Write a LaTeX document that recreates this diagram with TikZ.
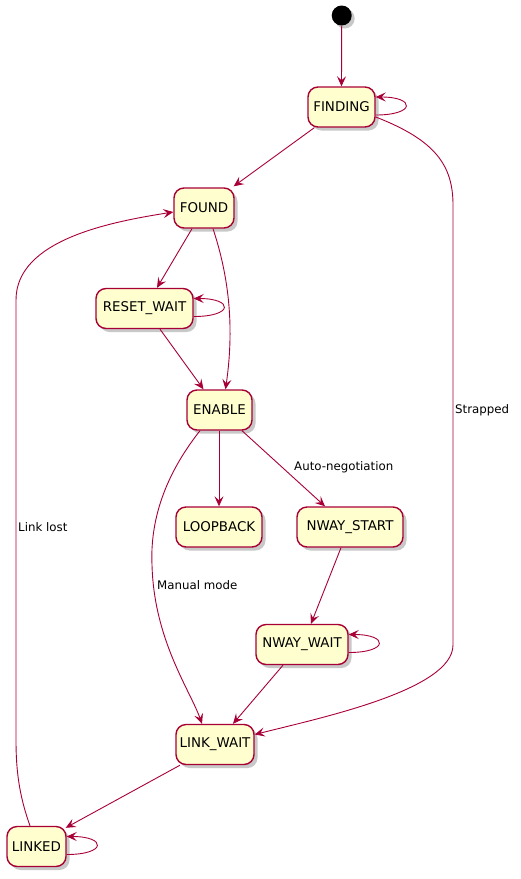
\documentclass[tikz,border=0pt]{standalone}
\usepackage{fontspec}
\setmainfont{DejaVu Sans}
\usetikzlibrary{arrows.meta,shadows}
\definecolor{pborder}{HTML}{A80036}
\definecolor{pfill}{HTML}{FEFECE}
\tikzset{
  state/.style={draw=pborder, fill=pfill, line width=1.4pt, rounded corners=10pt,
    minimum height=40pt, inner sep=0pt, font=\fontsize{13.4}{15}\selectfont,
    drop shadow={shadow xshift=3.5pt, shadow yshift=-3.5pt, opacity=0.3, fill=black!70}},
  startnode/.style={circle, fill=black, minimum size=20pt, inner sep=0pt,
    drop shadow={shadow xshift=3pt, shadow yshift=-3pt, opacity=0.3, fill=black!70}},
  tr/.style={draw=pborder, line width=0.9pt, -{Stealth[length=10pt, width=9pt, inset=4pt]}},
  lbl/.style={font=\fontsize{11.8}{14}\selectfont, inner sep=0pt}
}
\begin{document}
\begin{tikzpicture}[x=1pt,y=1pt]
\useasboundingbox[fill=white] (0,0) rectangle (521,-879);
\node[startnode] (start) at (341.7,-15.5) {};
\node[state, minimum width=67pt] (finding) at (341.5,-107) {FINDING};
\node[state, minimum width=60pt] (found) at (204,-208) {FOUND};
\node[state, minimum width=97pt] (reset) at (144.5,-308.5) {RESET\_WAIT};
\node[state, minimum width=65pt] (enable) at (219.5,-410) {ENABLE};
\node[state, minimum width=86pt] (loopback) at (219,-527) {LOOPBACK};
\node[state, minimum width=106pt] (nstart) at (350,-527) {NWAY\_START};
\node[state, minimum width=92pt] (nwait) at (302,-644.5) {NWAY\_WAIT};
\node[state, minimum width=78pt] (lwait) at (215,-744.5) {LINK\_WAIT};
\node[state, minimum width=59pt] (linked) at (36.5,-846.5) {LINKED};

% start -> FINDING
\draw[tr] (start.south) -- (finding.north);
% FINDING self loop
\draw[tr] ([yshift=-8pt]finding.east) .. controls +(40,0) and +(40,0) .. ([yshift=10pt]finding.east);
% FINDING -> FOUND
\draw[tr] ([xshift=7pt]finding.south west) -- ([xshift=-1pt,yshift=1pt]found.north east);
% FINDING -> LINK_WAIT (Strapped)
\coordinate (s1) at (453,-205);
\coordinate (s2) at (453,-645);
\draw[tr] ([yshift=-10pt]finding.east) .. controls (435,-140) and (453,-165) .. (s1)
  -- (s2) .. controls (453,-690) and (320,-718) .. ([yshift=10pt]lwait.east);
\node[lbl, anchor=west] (lstrap) at (455,-410) {Strapped};
% FOUND -> RESET_WAIT
\draw[tr] ([xshift=-12pt]found.south) -- ([xshift=12.5pt]reset.north);
% FOUND -> ENABLE
\draw[tr] ([xshift=9pt]found.south) .. controls (230,-280) and (234,-330) .. ([xshift=6pt]enable.north);
% RESET_WAIT self loop
\draw[tr] ([yshift=-8pt]reset.east) .. controls +(40,0) and +(40,0) .. ([yshift=10pt]reset.east);
% RESET_WAIT -> ENABLE
\draw[tr] ([xshift=15.5pt]reset.south) -- ([xshift=-16pt]enable.north);
% ENABLE -> LOOPBACK
\draw[tr] ([xshift=-0.5pt]enable.south) -- (loopback.north);
% ENABLE -> NWAY_START
\draw[tr] ([xshift=22.5pt]enable.south) -- ([xshift=-25pt]nstart.north);
\node[lbl, anchor=west] (lauto) at (294,-467.5) {Auto-negotiation};
% ENABLE -> LINK_WAIT (Manual mode)
\coordinate (m1) at (152,-565);
\draw[tr] ([xshift=-19.5pt]enable.south) .. controls (165,-475) and (150,-520) .. (m1)
  .. controls (154,-640) and (190,-690) .. ([xshift=-13pt]lwait.north);
\node[lbl, anchor=west] (lmanual) at (157,-585) {Manual mode};
% NWAY_START -> NWAY_WAIT
\draw[tr] ([xshift=-9pt]nstart.south) -- ([xshift=9pt]nwait.north);
% NWAY_WAIT self loop
\draw[tr] ([yshift=-8pt]nwait.east) .. controls +(40,0) and +(40,0) .. ([yshift=10pt]nwait.east);
% NWAY_WAIT -> LINK_WAIT
\draw[tr] ([xshift=-19pt]nwait.south) -- ([xshift=18pt]lwait.north);
% LINK_WAIT -> LINKED
\draw[tr] ([xshift=-35pt]lwait.south) -- ([xshift=-1pt,yshift=-2pt]linked.north east);
% LINKED self loop
\draw[tr] ([yshift=-8pt]linked.east) .. controls +(40,0) and +(40,0) .. ([yshift=10pt]linked.east);
% LINKED -> FOUND (Link lost)
\coordinate (k1) at (16,-740);
\coordinate (k2) at (16,-300);
\draw[tr] ([xshift=-6.5pt]linked.north) .. controls (19,-795) and (16,-770) .. (k1)
  -- (k2) .. controls (16,-240) and (110,-222) .. ([yshift=-4pt]found.west);
\node[lbl, anchor=west] (llost) at (18,-527) {Link lost};
\end{tikzpicture}
\end{document}
